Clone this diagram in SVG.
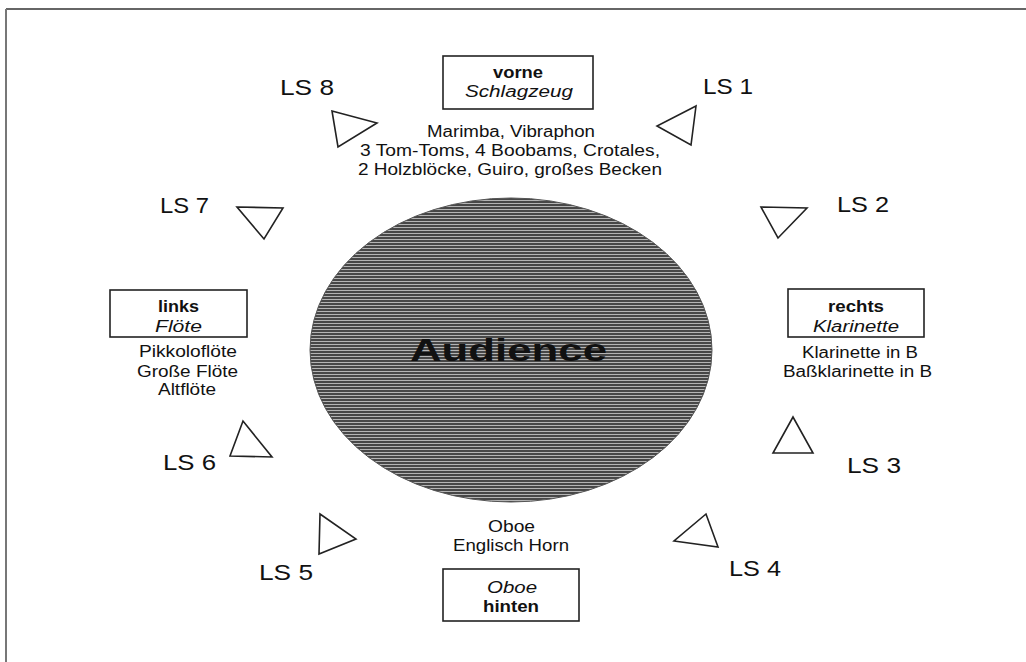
<svg xmlns="http://www.w3.org/2000/svg" width="1026" height="662" viewBox="0 0 1026 662">
<defs>
<pattern id="stripes" patternUnits="userSpaceOnUse" width="6" height="3">
<rect x="0" y="0" width="6" height="3" fill="#474747"/>
<rect x="0" y="2" width="6" height="1" fill="#b4b4b4"/>
</pattern>
</defs>
<style>
text{font-family:"Liberation Sans",Arial,sans-serif;fill:#111}
.ls{font-size:22px}
.t{font-size:16px}
.b{font-size:16px;font-weight:bold}
.i{font-size:16px;font-style:italic}
.box{fill:#fff;stroke:#222;stroke-width:1.6}
.spk{fill:#fff;stroke:#222;stroke-width:1.6;stroke-linejoin:miter}
</style>
<rect x="0" y="0" width="1026" height="662" fill="#fff"/>
<g id="frame">
<line x1="6" y1="9" x2="1026" y2="9" stroke="#333" stroke-width="1.6"/>
<line x1="6" y1="9" x2="6" y2="662" stroke="#777" stroke-width="2"/>
</g>
<g id="connectors"></g>
<g id="audience">
<ellipse cx="511" cy="350" rx="201" ry="152" fill="url(#stripes)" stroke="#555" stroke-width="1"/>
<text x="410" y="361" font-size="32" font-weight="bold" textLength="197" lengthAdjust="spacingAndGlyphs">Audience</text>
</g>
<g id="vorne">
<rect class="box" x="443" y="56" width="150" height="53"/>
<text class="b" x="493" y="78" textLength="50" lengthAdjust="spacingAndGlyphs">vorne</text>
<text class="i" x="465" y="97" textLength="108" lengthAdjust="spacingAndGlyphs">Schlagzeug</text>
<text class="t" x="427" y="137" textLength="168" lengthAdjust="spacingAndGlyphs">Marimba, Vibraphon</text>
<text class="t" x="360" y="156" textLength="300" lengthAdjust="spacingAndGlyphs">3 Tom-Toms, 4 Boobams, Crotales,</text>
<text class="t" x="358" y="175" textLength="304" lengthAdjust="spacingAndGlyphs">2 Holzblöcke, Guiro, großes Becken</text>
</g>
<g id="rechts">
<rect class="box" x="788" y="289" width="136" height="48"/>
<text class="b" x="828" y="312" textLength="56" lengthAdjust="spacingAndGlyphs">rechts</text>
<text class="i" x="813" y="332" textLength="86" lengthAdjust="spacingAndGlyphs">Klarinette</text>
<text class="t" x="802" y="358" textLength="116" lengthAdjust="spacingAndGlyphs">Klarinette in B</text>
<text class="t" x="783" y="377" textLength="149" lengthAdjust="spacingAndGlyphs">Baßklarinette in B</text>
</g>
<g id="links">
<rect class="box" x="110" y="290" width="137" height="47"/>
<text class="b" x="158" y="312" textLength="41" lengthAdjust="spacingAndGlyphs">links</text>
<text class="i" x="155" y="332" textLength="47" lengthAdjust="spacingAndGlyphs">Flöte</text>
<text class="t" x="139" y="357" textLength="98" lengthAdjust="spacingAndGlyphs">Pikkoloflöte</text>
<text class="t" x="137" y="377" textLength="101" lengthAdjust="spacingAndGlyphs">Große Flöte</text>
<text class="t" x="158" y="395" textLength="58" lengthAdjust="spacingAndGlyphs">Altflöte</text>
</g>
<g id="hinten">
<text class="t" x="488" y="532" textLength="47" lengthAdjust="spacingAndGlyphs">Oboe</text>
<text class="t" x="453" y="551" textLength="116" lengthAdjust="spacingAndGlyphs">Englisch Horn</text>
<rect class="box" x="443" y="569" width="136" height="52"/>
<text class="i" x="487" y="593" textLength="50" lengthAdjust="spacingAndGlyphs">Oboe</text>
<text class="b" x="483" y="612" textLength="56" lengthAdjust="spacingAndGlyphs">hinten</text>
</g>
<g id="ls1">
<polygon class="spk" points="696,106 657,126 691,145"/>
<text class="ls" x="703" y="94" textLength="50" lengthAdjust="spacingAndGlyphs">LS 1</text>
</g>
<g id="ls2">
<polygon class="spk" points="761,207 807,208 778,238"/>
<text class="ls" x="837" y="212" textLength="52" lengthAdjust="spacingAndGlyphs">LS 2</text>
</g>
<g id="ls3">
<polygon class="spk" points="793,417 773,453 813,453"/>
<text class="ls" x="847" y="473" textLength="54" lengthAdjust="spacingAndGlyphs">LS 3</text>
</g>
<g id="ls4">
<polygon class="spk" points="706,514 674,541 718,547"/>
<text class="ls" x="729" y="576" textLength="52" lengthAdjust="spacingAndGlyphs">LS 4</text>
</g>
<g id="ls5">
<polygon class="spk" points="320,514 356,539 319,554"/>
<text class="ls" x="259" y="580" textLength="54" lengthAdjust="spacingAndGlyphs">LS 5</text>
</g>
<g id="ls6">
<polygon class="spk" points="243,421 230,456 272,457"/>
<text class="ls" x="163" y="470" textLength="53" lengthAdjust="spacingAndGlyphs">LS 6</text>
</g>
<g id="ls7">
<polygon class="spk" points="237,207 283,208 264,239"/>
<text class="ls" x="160" y="213" textLength="49" lengthAdjust="spacingAndGlyphs">LS 7</text>
</g>
<g id="ls8">
<polygon class="spk" points="332,111 377,123 338,147"/>
<text class="ls" x="280" y="95" textLength="54" lengthAdjust="spacingAndGlyphs">LS 8</text>
</g>
</svg>
